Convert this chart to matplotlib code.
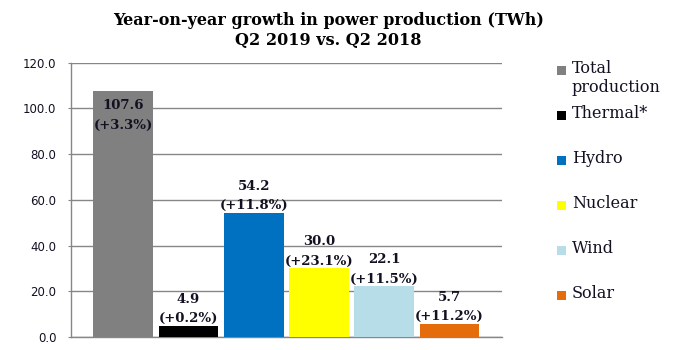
import numpy as np
import matplotlib
matplotlib.use("Agg")
import matplotlib.pyplot as plt
from matplotlib.patches import Rectangle

# datos
sources = ["Total\nproduction", "Thermal*", "Hydro", "Nuclear", "Wind", "Solar"]
production = [107.6, 4.9, 54.2, 30.0, 22.1, 5.7]
growth_pct = [3.3, 0.2, 11.8, 23.1, 11.5, 11.2]
colors = ["#808080", "#000000", "#0070C0", "#FFFF00", "#B7DEE8", "#E46C0A"]
yticks = [0, 20, 40, 60, 80, 100, 120]

grid_col = "#868686"
text_col = "#111122"

fig = plt.figure(figsize=(7, 3.5), dpi=100)
ax = fig.add_axes([0.101, 0.0371, 0.6161, 0.7837])

x = np.arange(len(production))
ax.bar(x, production, width=0.915, color=colors, zorder=3)

ax.set_xlim(-0.805, 5.805)
ax.set_ylim(0, 120)
ax.set_yticks(yticks)
ax.set_yticklabels([f"{v:.1f}" for v in yticks], fontsize=8.5, color=text_col,
                   family="DejaVu Sans")
ax.set_xticks([])
ax.tick_params(axis="y", length=2.2, width=0.8, color=grid_col, pad=8)
ax.yaxis.grid(True, color=grid_col, linewidth=1.0, zorder=0)
for s in ["top", "right"]:
    ax.spines[s].set_visible(False)
for s in ["left", "bottom"]:
    ax.spines[s].set_color(grid_col)
    ax.spines[s].set_linewidth(1.0)

# etiquetas de datos
for xi, v, p in zip(x, production, growth_pct):
    lbl = f"{v:.1f}\n(+{p:.1f}%)"
    if v > 0.85 * 120:
        ax.annotate(lbl, (xi, v), xytext=(0, -6), textcoords="offset points",
                    ha="center", va="top", fontsize=9.5, fontweight="bold",
                    family="DejaVu Serif", color=text_col, linespacing=1.65, zorder=4)
    else:
        ax.annotate(lbl, (xi, v), xytext=(0, 0.5), textcoords="offset points",
                    ha="center", va="bottom", fontsize=9.5, fontweight="bold",
                    family="DejaVu Serif", color=text_col, linespacing=1.65, zorder=4)

fig.text(0.469, 0.967, "Year-on-year growth in power production (TWh)\nQ2 2019 vs. Q2 2018",
         ha="center", va="top", fontsize=11.5, fontweight="bold", family="DejaVu Serif",
         color="#000000", linespacing=1.3)

# leyenda manual
W, H = 700.0, 350.0
for i, (name, c) in enumerate(zip(sources, colors)):
    yc = 70.7 + 45 * i
    fig.patches.append(Rectangle((557 / W, 1 - (yc + 4.5) / H), 9 / W, 9 / H,
                                 transform=fig.transFigure, facecolor=c,
                                 edgecolor="none", figure=fig))
    fig.text(571.7 / W, 1 - (yc - 11) / H, name, ha="left", va="top",
             fontsize=11.5, family="DejaVu Serif", color=text_col)

fig.savefig("out.png", dpi=100)
